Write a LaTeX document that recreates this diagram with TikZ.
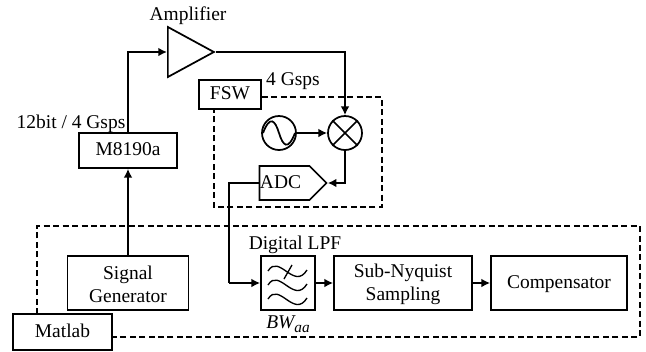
\documentclass[tikz,border=0pt]{standalone}
\usepackage{fontspec}
\setmainfont{Liberation Serif}
\usetikzlibrary{arrows.meta, shapes.geometric, shapes.symbols}
\newcommand{\blockfont}{\fontsize{14.6}{17.5}\selectfont}
\tikzset{
  block/.style={draw,line width=1.3pt,inner sep=0pt,align=center,font=\blockfont},
  oneline/.style={text height=10pt,text depth=2.4pt},
  caption/.style={inner sep=0pt,font=\blockfont},
  wire/.style={line width=1.3pt,-{Latex[length=6.5pt,width=6.5pt]}},
  plainwire/.style={line width=1.3pt},
  border/.style={line width=1.3pt,dash pattern=on 4.5pt off 2.6pt},
}
\begin{document}
\begin{tikzpicture}[x=0.75pt,y=-0.75pt]
  \useasboundingbox (0,0) rectangle (646,351);
  % Transmit chain
  \node[block,oneline,minimum width=73.5pt,minimum height=26.25pt] (awg) at (128,150.5) {M8190a};
  \node[block,isosceles triangle,isosceles triangle stretches,minimum width=37.5pt,minimum height=34.5pt,anchor=lower side] (amp) at (167,52) {};
  \node[caption] at (188,16) {Amplifier};
  \node[caption] at (71,124) {12bit / 4 Gsps};
  % Receiver
  \node[block,oneline,minimum width=46.5pt,minimum height=21.75pt] (fsw) at (230,94.5) {FSW};
  \node[caption] at (293,81) {4 Gsps};
  \node[block,circle,minimum size=25.5pt] (lo) at (279,133) {};
  \node[block,circle,minimum size=25.5pt] (mixer) at (345,133) {};
  \draw[plainwire] (mixer.45) -- (mixer.225) (mixer.135) -- (mixer.315);
  \draw[plainwire] (263,133) .. controls (270,115) and (275,120) .. (279,133) .. controls (283,146) and (288,151) .. (295,133);
  \node[block,oneline,signal,signal to=east,minimum width=50.25pt,minimum height=25.5pt] (adc) at (284.5,183) {ADC\hspace*{6pt}};
  \draw[border] (fsw.east |- 0,97) -- (382,97) -- (382,207) -- (214,207) -- (214,109);
  % Matlab processing
  \node[block,oneline,minimum width=74.25pt,minimum height=27pt] (matlab) at (62.5,332) {Matlab};
  \node[block,minimum width=90.75pt,minimum height=40.5pt] (siggen) at (128,283) {\rule{0pt}{12pt}Signal\\Generator};
  \node[block,minimum width=40.5pt,minimum height=40.5pt] (lpf) at (288,283) {};
  \node[caption] at (295,245) {Digital LPF};
  \node[caption] at (288,324) {\itshape BW\raisebox{-3pt}{\fontsize{11.5}{11.5}\selectfont aa}};
  \foreach \y in {271,285,299}
    \draw[line width=1pt] (268,\y) .. controls (279,\y-18) and (294,\y+20) .. (307,\y-1);
  \draw[line width=1pt] (284,279) -- (292,265);
  \node[block,minimum width=103.5pt,minimum height=40.5pt] (subn) at (403,283) {\rule{0pt}{12pt}Sub-Nyquist\\Sampling};
  \node[block,oneline,minimum width=102pt,minimum height=40.5pt] (comp) at (559,283) {Compensator};
  \draw[border] (37,314) -- (37,226) -- (640,226) -- (640,337) -- (matlab.east |- 0,337);
  % Signal paths
  \coordinate (drop) at (229,283);
  \draw[wire] (siggen.north) -- (awg.south);
  \draw[wire] (awg.north) |- (amp.lower side);
  \draw[wire] (amp.apex) -| (mixer.north);
  \draw[wire] (lo) -- (mixer);
  \draw[wire] (mixer.south) |- (adc.east);
  \draw[plainwire] (adc.west) -| (drop);
  \draw[wire] (drop) -- (lpf.west);
  \draw[wire] (lpf) -- (subn);
  \draw[wire] (subn) -- (comp);
\end{tikzpicture}
\end{document}
